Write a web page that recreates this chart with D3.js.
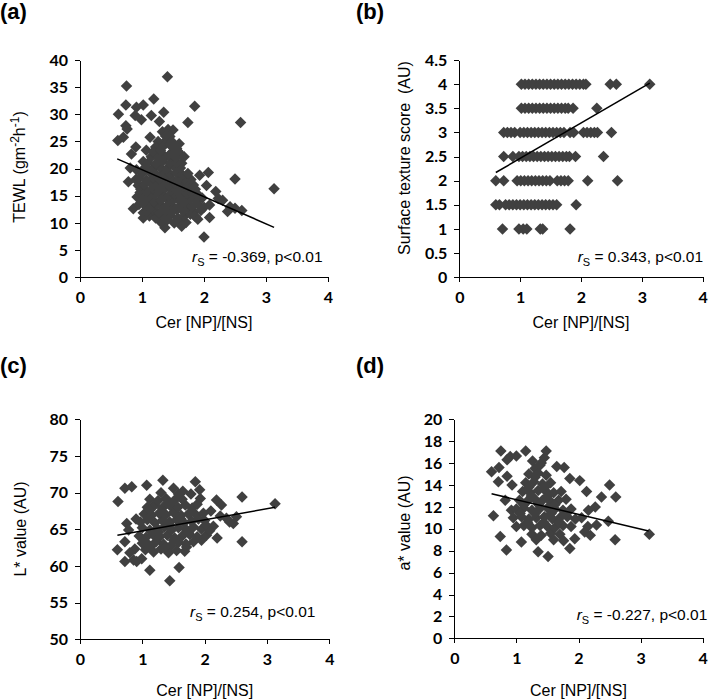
<!DOCTYPE html>
<html lang="en">
<head>
<meta charset="UTF-8">
<title>Cer [NP]/[NS] correlations</title>
<script src="https://cdn.jsdelivr.net/npm/d3@7"></script>
<style>
    body { margin: 0; background: #fff; }
    svg text { font-family: "Liberation Sans", Arial, sans-serif; fill: #000; }
    .axis .tick text { font-family: Lato, "Liberation Sans", sans-serif; font-weight: bold; font-size: 16px; }
    .axis path, .axis line { stroke: #000; stroke-width: 1px; shape-rendering: crispEdges; }
    .label { font-weight: bold; font-size: 22px; }
    .title { font-size: 16px; }
    .note { font-size: 15.5px; }
</style>
</head>
<body>
<div id="chart"></div>
<script>
// x axis is the same for every panel
var cerTicks = [0, 1, 2, 3, 4];

// (a) TEWL
var tewlTicks = [0, 5, 10, 15, 20, 25, 30, 35, 40];
var tewlTrend = [[0.6, 21.8], [3.13, 9.2]];
var tewlPoints = [
    [1.41, 36.9], [0.75, 35.2], [1.19, 32.8], [0.74, 31.7], [1.02, 31.7], [0.91, 31.3], [1.85, 31.5],
    [0.62, 30.0], [1.35, 30.4], [1.15, 29.8], [0.89, 29.8], [0.99, 29.0], [0.74, 27.9], [0.76, 27.3],
    [1.28, 28.7], [1.74, 28.5], [2.59, 28.5], [1.33, 26.8], [1.42, 27.2], [1.50, 27.1], [0.70, 25.8],
    [0.61, 25.2], [1.13, 25.8], [1.26, 25.0], [1.40, 25.3], [1.45, 25.9], [0.90, 24.0], [1.07, 23.4],
    [1.22, 24.0], [1.56, 23.7], [1.61, 22.8], [0.83, 22.7], [1.02, 21.3], [1.15, 22.2], [1.37, 22.2],
    [1.50, 21.6], [1.64, 21.0], [0.81, 20.1], [0.91, 19.8], [0.78, 17.6], [2.07, 19.3], [1.93, 18.8],
    [2.50, 18.1], [3.13, 16.3], [2.04, 16.9], [2.19, 15.8], [2.30, 14.2], [2.42, 13.0], [2.50, 12.7],
    [2.38, 12.1], [2.61, 12.3], [0.86, 12.6], [1.02, 11.9], [1.02, 10.9], [2.09, 11.0], [1.90, 10.7],
    [1.37, 9.1], [1.64, 9.4], [2.00, 7.4], [2.09, 13.3], [2.23, 14.5],
    [0.92, 14.8], [0.94, 16.9], [0.90, 18.0], [0.95, 13.4], [0.97, 15.6], [1.60, 24.6], [1.68, 22.2],
    [1.30, 10.2], [1.41, 10.6], [1.52, 10.0], [1.60, 10.4], [1.71, 10.1],
    [1.12, 11.3], [1.22, 10.9], [1.35, 11.2], [1.46, 11.4], [1.58, 10.9], [1.68, 11.3], [1.78, 11.6], [1.86, 11.2],
    [1.08, 12.1], [1.18, 12.4], [1.28, 11.9], [1.38, 12.3], [1.48, 12.0], [1.56, 12.5], [1.66, 12.2], [1.75, 12.6],
    [1.84, 12.0], [1.95, 12.3],
    [1.05, 13.2], [1.14, 12.9], [1.24, 13.4], [1.33, 13.0], [1.42, 13.3], [1.52, 12.8], [1.62, 13.1], [1.71, 13.5],
    [1.80, 13.0], [1.90, 13.4], [2.00, 12.9],
    [1.00, 14.1], [1.10, 14.4], [1.20, 13.9], [1.30, 14.2], [1.39, 14.5], [1.48, 14.0], [1.58, 14.3], [1.67, 13.9],
    [1.77, 14.4], [1.87, 14.1], [1.97, 14.6],
    [1.04, 15.3], [1.13, 15.0], [1.23, 15.4], [1.33, 15.1], [1.43, 14.9], [1.53, 15.3], [1.63, 15.0], [1.72, 15.4],
    [1.82, 15.2], [1.92, 15.0],
    [0.98, 16.2], [1.08, 15.9], [1.18, 16.3], [1.28, 16.0], [1.38, 16.4], [1.48, 16.1], [1.57, 15.8], [1.66, 16.3],
    [1.76, 16.0], [1.86, 16.2],
    [1.03, 17.1], [1.13, 17.4], [1.23, 16.9], [1.33, 17.2], [1.43, 17.0], [1.53, 17.3], [1.62, 16.9], [1.72, 17.2],
    [1.83, 17.0],
    [0.95, 18.2], [1.07, 17.9], [1.18, 18.3], [1.28, 18.0], [1.38, 18.4], [1.48, 18.1], [1.58, 17.8], [1.68, 18.2],
    [1.79, 18.0],
    [1.00, 19.1], [1.12, 19.4], [1.23, 18.9], [1.35, 19.2], [1.45, 19.0], [1.55, 19.3], [1.65, 18.9], [1.74, 19.1],
    [1.05, 20.2], [1.17, 19.9], [1.28, 20.3], [1.40, 20.0], [1.52, 20.4], [1.62, 20.1],
    [1.10, 21.1], [1.22, 20.9], [1.33, 21.3], [1.45, 21.0], [1.56, 21.2],
    [1.25, 22.1], [1.43, 22.4], [1.55, 22.0],
    [1.18, 23.1], [1.30, 23.3], [1.48, 22.9], [1.58, 23.2],
    [1.35, 24.2], [1.45, 24.4], [1.52, 24.0],
    [1.48, 25.0], [1.38, 26.0]
];

// (b) surface texture score, one row of x values per score
var textureTicks = [0, 0.5, 1, 1.5, 2, 2.5, 3, 3.5, 4, 4.5];
var textureTrend = [[0.6, 2.17], [3.13, 4.02]];
var textureLevels = [1, 1.5, 2, 2.5, 3, 3.5, 4];
var textureRows = [
    [0.71, 0.98, 1.05, 1.11, 1.33, 1.37, 1.82],
    [0.60, 0.66, 0.76, 0.82, 0.88, 0.94, 1.00, 1.06, 1.12, 1.18, 1.24, 1.30, 1.36, 1.42, 1.48, 1.54, 1.60, 1.92],
    [0.60, 0.73, 0.95, 1.01, 1.07, 1.13, 1.19, 1.25, 1.31, 1.37, 1.43, 1.49, 1.61, 1.67, 1.73, 1.79, 2.11, 2.60],
    [0.73, 0.88, 0.98, 1.04, 1.10, 1.16, 1.22, 1.28, 1.34, 1.40, 1.46, 1.52, 1.58, 1.64, 1.70, 1.76, 1.81, 1.91, 2.37],
    [0.73, 0.79, 0.85, 0.91, 1.00, 1.06, 1.12, 1.18, 1.24, 1.30, 1.36, 1.42, 1.48, 1.54, 1.60, 1.66, 1.72,
        1.82, 1.88, 2.04, 2.10, 2.16, 2.22, 2.27, 2.50],
    [1.02, 1.08, 1.14, 1.20, 1.26, 1.32, 1.38, 1.44, 1.50, 1.56, 1.62, 1.68, 1.74, 1.79, 1.87, 2.26],
    [1.02, 1.08, 1.14, 1.20, 1.26, 1.32, 1.38, 1.44, 1.50, 1.56, 1.62, 1.68, 1.74, 1.80, 1.86, 1.92, 1.98,
        2.04, 2.08, 2.48, 2.58, 3.13]
];

// (c) L* value
var lTicks = [50, 55, 60, 65, 70, 75, 80];
var lTrend = [[0.6, 64.2], [3.13, 68.0]];
var lPoints = [
    [0.61, 68.8], [0.72, 70.6], [0.83, 70.8], [1.07, 71.0], [1.33, 71.7], [1.85, 71.5], [1.92, 70.4],
    [1.93, 69.2], [2.19, 69.0], [2.27, 68.3], [2.60, 69.4], [3.13, 68.5], [2.51, 66.7], [2.46, 65.8],
    [2.35, 66.5], [2.40, 66.0], [2.20, 63.8], [2.60, 63.3], [0.60, 62.2], [0.72, 60.6], [0.86, 60.8],
    [0.91, 60.6], [0.99, 61.0], [1.12, 59.4], [1.59, 59.8], [1.44, 58.0], [0.75, 65.8], [0.78, 64.9],
    [0.90, 66.4], [0.72, 63.3], [0.88, 62.3], [0.80, 61.8], [2.03, 64.2], [2.14, 65.4], [2.10, 67.5],
    [2.25, 66.8], [1.50, 70.6], [1.71, 62.6], [1.65, 70.2], [1.78, 69.8], [2.00, 66.2], [2.08, 64.8],
    [1.95, 63.5],
    [1.05, 62.2], [1.18, 61.9], [1.30, 62.3], [1.42, 61.8], [1.55, 62.1], [1.68, 62.0],
    [1.00, 63.1], [1.10, 62.9], [1.22, 63.3], [1.34, 63.0], [1.46, 62.8], [1.58, 63.2], [1.70, 63.0], [1.82, 63.3],
    [0.95, 64.1], [1.06, 63.9], [1.17, 64.3], [1.28, 64.0], [1.40, 64.2], [1.52, 63.8], [1.64, 64.1], [1.76, 64.3],
    [1.88, 64.0],
    [1.00, 65.2], [1.12, 64.9], [1.24, 65.1], [1.35, 65.3], [1.47, 64.9], [1.58, 65.2], [1.70, 65.0], [1.82, 65.3],
    [1.95, 65.0],
    [0.97, 66.0], [1.08, 66.3], [1.20, 65.9], [1.32, 66.2], [1.44, 66.0], [1.55, 66.3], [1.67, 65.9], [1.79, 66.1],
    [1.90, 66.4],
    [1.03, 67.1], [1.15, 66.9], [1.27, 67.2], [1.38, 67.0], [1.50, 67.3], [1.62, 66.9], [1.74, 67.1], [1.86, 67.0],
    [1.08, 68.0], [1.20, 68.3], [1.32, 67.9], [1.45, 68.2], [1.57, 68.0], [1.69, 68.3], [1.80, 67.9],
    [1.12, 69.1], [1.25, 68.9], [1.38, 69.2], [1.52, 69.0], [1.64, 69.1],
    [1.30, 70.0], [1.58, 69.8],
    [1.14, 62.7], [1.36, 62.5], [1.50, 63.5], [1.26, 64.6], [1.44, 65.6], [1.62, 66.4], [1.74, 64.6],
    [1.12, 67.6], [1.40, 68.6], [1.88, 68.4], [2.02, 65.6], [1.98, 67.2]
];

// (d) a* value
var aTicks = [0, 2, 4, 6, 8, 10, 12, 14, 16, 18, 20];
var aTrend = [[0.6, 13.2], [3.13, 9.8]];
var aPoints = [
    [0.75, 17.1], [1.15, 17.1], [1.48, 17.1], [0.60, 15.2], [0.72, 15.6], [0.71, 14.3], [0.90, 16.6],
    [1.00, 16.65], [0.85, 16.3], [1.65, 15.7], [1.77, 15.6], [1.86, 14.6], [2.02, 14.4], [2.50, 14.0],
    [2.60, 12.9], [2.37, 12.9], [2.13, 13.4], [2.27, 12.0], [2.16, 11.7], [2.29, 10.35], [2.48, 10.7],
    [2.59, 9.0], [3.14, 9.5], [0.63, 11.2], [0.74, 9.3], [0.84, 8.07], [1.08, 8.8], [1.35, 7.9],
    [1.51, 7.46], [1.86, 8.2], [1.94, 9.1], [2.10, 9.7], [2.19, 9.4], [0.82, 12.6], [0.92, 11.7],
    [1.40, 16.0], [1.45, 16.5], [1.30, 15.5], [2.05, 11.0], [2.15, 10.2], [0.85, 14.8], [0.93, 14.0],
    [1.25, 9.5], [1.40, 9.4], [1.55, 9.6], [1.70, 9.5],
    [1.00, 10.2], [1.12, 10.3], [1.25, 10.1], [1.38, 10.3], [1.50, 10.2], [1.62, 10.1], [1.75, 10.3], [1.88, 10.2],
    [0.95, 11.0], [1.08, 11.1], [1.20, 10.9], [1.32, 11.0], [1.45, 11.1], [1.58, 10.9], [1.70, 11.0], [1.82, 11.1],
    [1.95, 10.9],
    [1.00, 11.8], [1.12, 11.9], [1.25, 11.7], [1.37, 11.8], [1.50, 11.9], [1.62, 11.8], [1.75, 11.7], [1.88, 11.8],
    [1.05, 12.6], [1.17, 12.5], [1.30, 12.7], [1.42, 12.6], [1.55, 12.5], [1.68, 12.6], [1.80, 12.7],
    [1.10, 13.4], [1.22, 13.3], [1.35, 13.5], [1.48, 13.4], [1.60, 13.3], [1.72, 13.4],
    [1.15, 14.2], [1.28, 14.3], [1.42, 14.1], [1.55, 14.2],
    [1.20, 15.0], [1.35, 15.1], [1.48, 14.9],
    [1.38, 15.8],
    [1.18, 10.6], [1.44, 10.6], [1.68, 10.6], [1.06, 11.4], [1.30, 11.4], [1.56, 11.4], [1.80, 11.4],
    [1.12, 12.2], [1.36, 12.2], [1.62, 12.2], [1.24, 13.0], [1.50, 13.0], [1.20, 13.8], [1.46, 13.8],
    [1.30, 14.7], [1.26, 16.2], [1.32, 9.0], [1.60, 9.0], [1.76, 8.9]
];

var panelLabels = ["(a)", "(b)", "(c)", "(d)"];
var xTitle = "Cer [NP]/[NS]";
var notes = ["= -0.369, p<0.01", "= 0.343, p<0.01", "= 0.254, p<0.01", "= -0.227, p<0.01"];

var texturePoints = [];
textureRows.forEach(function (row, i) {
    row.forEach(function (v) { texturePoints.push([v, textureLevels[i]]); });
});

var panels = [
    {points: tewlPoints, trend: tewlTrend, yDomain: [0, 40], yTicks: tewlTicks,
        box: {x0: 80, x1: 328, y0: 60, y1: 277.3}, xTitleY: 328, yTitle: [25, 167],
        note: [192, 261.7], label: [0, 19]},
    {points: texturePoints, trend: textureTrend, yDomain: [0, 4.5], yTicks: textureTicks,
        box: {x0: 459.3, x1: 702.7, y0: 60, y1: 277.3}, xTitleY: 328, yTitle: [410, 158],
        note: [577.7, 261.7], label: [356, 19]},
    {points: lPoints, trend: lTrend, yDomain: [50, 80], yTicks: lTicks,
        box: {x0: 80, x1: 329.3, y0: 419.3, y1: 639.3}, xTitleY: 696, yTitle: [25.5, 529],
        note: [190, 617], label: [0, 373]},
    {points: aPoints, trend: aTrend, yDomain: [0, 20], yTicks: aTicks,
        box: {x0: 454.3, x1: 702.7, y0: 419.3, y1: 638.3}, xTitleY: 696, yTitle: [410, 523],
        note: [576.7, 620], label: [356, 373]}
];

var svg = d3.select("#chart")
    .append("svg")
    .attr("width", 709)
    .attr("height", 699);

var diamond = d3.symbol(d3.symbolSquare, 66);

// y titles need tspans (superscripts in TEWL)
function yTitle(text, i) {
    if (i === 0) {
        text.append("tspan").text("TEWL (gm");
        text.append("tspan").attr("dy", -6).style("font-size", "12px").text("-2");
        text.append("tspan").attr("dy", 6).text("h");
        text.append("tspan").attr("dy", -6).style("font-size", "12px").text("-1");
        text.append("tspan").attr("dy", 6).text(")");
    } else if (i === 1) {
        text.text("Surface texture score\u00a0\u00a0(AU)");
    } else if (i === 2) {
        text.text("L* value (AU)");
    } else {
        text.text("a* value (AU)");
    }
}

panels.forEach(function (p, i) {
    var x = d3.scaleLinear().domain([0, 4]).range([p.box.x0, p.box.x1]);
    var y = d3.scaleLinear().domain(p.yDomain).range([p.box.y1, p.box.y0]);
    var g = svg.append("g");

    g.append("g")
        .attr("class", "axis")
        .attr("transform", "translate(0," + p.box.y1 + ")")
        .call(d3.axisBottom(x).tickValues(cerTicks).tickSize(5).tickSizeOuter(0)
            .tickPadding(9).tickFormat(d3.format("d")));

    g.append("g")
        .attr("class", "axis")
        .attr("transform", "translate(" + p.box.x0 + ",0)")
        .call(d3.axisLeft(y).tickValues(p.yTicks).tickSize(5).tickSizeOuter(0)
            .tickPadding(7).tickFormat(function (d) { return String(d); }));

    g.append("g")
        .selectAll("path")
        .data(p.points)
        .enter()
        .append("path")
        .attr("d", diamond)
        .attr("transform", function (d) {
            return "translate(" + x(d[0]) + "," + y(d[1]) + ") rotate(45)";
        })
        .attr("fill", "#404040");

    g.append("path")
        .datum(p.trend)
        .attr("fill", "none")
        .attr("stroke", "#000")
        .attr("stroke-width", 1.5)
        .attr("d", d3.line().x(function (d) { return x(d[0]); }).y(function (d) { return y(d[1]); }));

    g.append("text")
        .attr("class", "title")
        .attr("x", (p.box.x0 + p.box.x1) / 2)
        .attr("y", p.xTitleY)
        .attr("text-anchor", "middle")
        .text(xTitle);

    g.append("text")
        .attr("class", "title")
        .attr("text-anchor", "middle")
        .attr("transform", "translate(" + p.yTitle[0] + "," + p.yTitle[1] + ") rotate(-90)")
        .call(yTitle, i);

    var note = g.append("text")
        .attr("class", "note")
        .attr("x", p.note[0])
        .attr("y", p.note[1]);
    note.append("tspan").style("font-style", "italic").text("r");
    note.append("tspan").attr("dy", 4).style("font-size", "11px").text("S");
    note.append("tspan").attr("dy", -4).text(" " + notes[i]);

    g.append("text")
        .attr("class", "label")
        .attr("x", p.label[0])
        .attr("y", p.label[1])
        .text(panelLabels[i]);
});
</script>
</body>
</html>
